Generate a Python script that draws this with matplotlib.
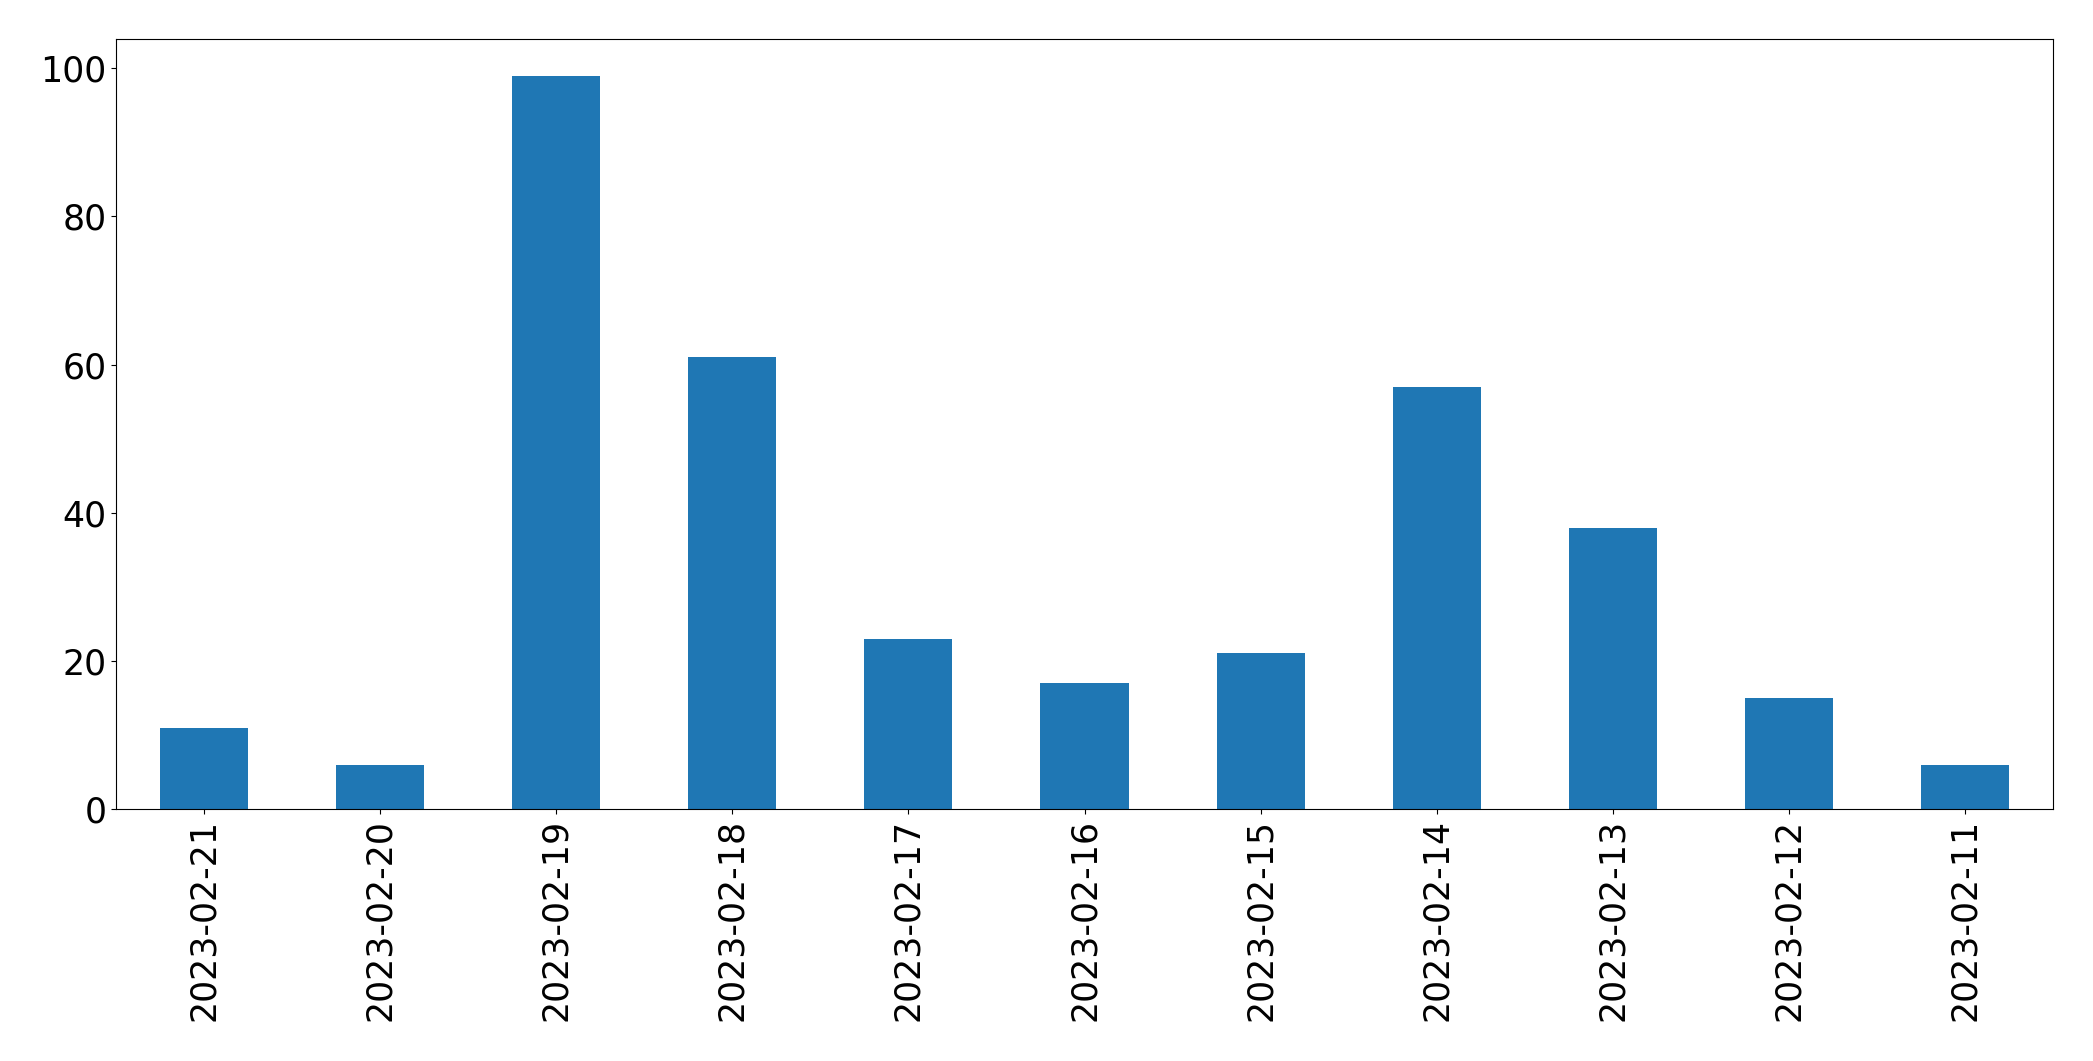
import matplotlib
matplotlib.use("Agg")
import matplotlib.pyplot as plt

dates = ["2023-02-21", "2023-02-20", "2023-02-19", "2023-02-18", "2023-02-17",
         "2023-02-16", "2023-02-15", "2023-02-14", "2023-02-13", "2023-02-12",
         "2023-02-11"]
counts = [11, 6, 99, 61, 23, 17, 21, 57, 38, 15, 6]

W, H = 2093, 1061
fig = plt.figure(figsize=(W / 100, H / 100), dpi=100)
left, right, top, bottom = 116, 2053, 39, 809
ax = fig.add_axes([left / W, 1 - bottom / H, (right - left) / W, (bottom - top) / H])

x = list(range(len(dates)))
ax.bar(x, counts, width=0.5, color="#1f77b4")
ax.set_xlim(-0.5, len(dates) - 0.5)
ax.set_ylim(0, max(counts) * 1.05)
ax.set_xticks(x)
ax.set_xticklabels(dates, rotation=90)
ax.set_yticks([0, 20, 40, 60, 80, 100])
ax.tick_params(labelsize=25)

fig.savefig("out.png", dpi=100)
